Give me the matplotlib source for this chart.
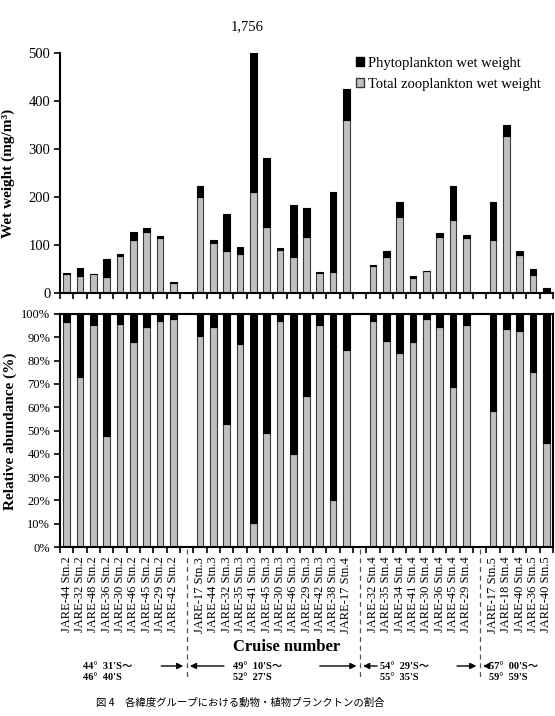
import numpy as np
import matplotlib
matplotlib.use('Agg')
import matplotlib.pyplot as plt
from matplotlib.patches import Patch
from matplotlib.transforms import blended_transform_factory

plt.rcParams['font.family'] = ['Liberation Serif', 'Noto Sans CJK JP']

# Stations, in four latitude groups ('' = blank slot between groups)
stations = ['JARE-44 Stn.2', 'JARE-32 Stn.2', 'JARE-48 Stn.2', 'JARE-36 Stn.2', 'JARE-30 Stn.2',
            'JARE-46 Stn.2', 'JARE-45 Stn.2', 'JARE-29 Stn.2', 'JARE-42 Stn.2', '',
            'JARE-17 Stn.3', 'JARE-44 Stn.3', 'JARE-32 Stn.3', 'JARE-35 Stn.3', 'JARE-41 Stn.3',
            'JARE-45 Stn.3', 'JARE-30 Stn.3', 'JARE-46 Stn.3', 'JARE-29 Stn.3', 'JARE-42 Stn.3',
            'JARE-38 Stn.3', 'JARE-17 Stn.4', '',
            'JARE-32 Stn.4', 'JARE-35 Stn.4', 'JARE-34 Stn.4', 'JARE-41 Stn.4', 'JARE-30 Stn.4',
            'JARE-36 Stn.4', 'JARE-45 Stn.4', 'JARE-29 Stn.4', '',
            'JARE-17 Stn.5', 'JARE-18 Stn.4', 'JARE-40 Stn.4', 'JARE-36 Stn.5', 'JARE-40 Stn.5']

# wet weight (mg/m3)
zoo_ww = [40, 36, 39, 33, 78, 111, 127, 114, 21, 0,
          201, 104, 88, 82, 210, 138, 90, 74, 116, 41, 44, 360, 0,
          57, 76, 158, 31, 45, 116, 152, 114, 0,
          111, 327, 80, 38, 3]
phyto_ww = [2, 16, 1, 38, 4, 16, 9, 5, 1, 0,
            21, 7, 77, 13, 1546, 144, 3, 109, 62, 2, 166, 64, 0,
            2, 11, 32, 5, 1, 8, 71, 6, 0,
            78, 23, 7, 13, 8]

# relative abundance of zooplankton (%)
zoo_pct = [96.6, 72.9, 95.1, 47.7, 95.7, 88.1, 94.3, 96.9, 97.7, 0,
           90.7, 94.6, 52.6, 87.1, 10.3, 49.1, 96.9, 39.7, 64.6, 95.4, 20.3, 84.7, 0,
           96.9, 88.6, 83.3, 88.0, 97.9, 94.3, 68.6, 95.4, 0,
           58.3, 93.7, 92.6, 75.3, 44.6]

group_breaks = [9, 22, 31]
lat_labels = ["44°  31'S～\n46°  40'S", "49°  10'S～\n52°  27'S",
              "54°  29'S～\n55°  35'S", "57°  00'S～\n59°  59'S"]

W, H = 555, 716
fig = plt.figure(figsize=(W / 100, H / 100), dpi=100)

def fx(px):
    return px / W

def fy(py):
    return 1 - py / H

x = np.arange(len(stations))
blank = np.array([s == '' for s in stations])
zoo_ww = np.array(zoo_ww, float)
phyto_ww = np.array(phyto_ww, float)
zoo_pct = np.array(zoo_pct, float)

gray = '#c0c0c0'
edge = '#3a3a3a'
bw = 0.5

# ---- top panel: wet weight
ax1 = fig.add_axes([fx(60), fy(293), fx(553) - fx(60), fy(53) - fy(293)])
xs = x[~blank]
ax1.bar(xs, zoo_ww[~blank], width=bw, color=gray, edgecolor=edge, linewidth=0.8)
ax1.bar(xs, phyto_ww[~blank], bottom=zoo_ww[~blank], width=bw, color='black',
        edgecolor='black', linewidth=0.8)
ax1.set_ylim(0, 500)
ax1.set_xlim(-0.5, len(stations) - 0.5)
ax1.set_yticks([0, 100, 200, 300, 400, 500])
ax1.set_xticks(np.arange(-0.5, len(stations)))
ax1.set_xticklabels([])
ax1.tick_params(axis='both', direction='out', length=4, width=1.2, labelsize=10.5, pad=3)
for s in ['top', 'right']:
    ax1.spines[s].set_visible(False)
for s in ['left', 'bottom']:
    ax1.spines[s].set_linewidth(1.5)

i_big = stations.index('JARE-41 Stn.3')
ax1.annotate(f"{int(zoo_ww[i_big] + phyto_ww[i_big]):,}", xy=(i_big, 500),
             xytext=(-6, 20), textcoords='offset pixels', ha='center', va='bottom',
             fontsize=10.5, annotation_clip=False)

handles = [Patch(facecolor='black', edgecolor='black'),
           Patch(facecolor=gray, edgecolor=edge)]
fig.legend(handles, ['Phytoplankton wet weight', 'Total zooplankton wet weight'],
           loc='upper left', bbox_to_anchor=(fx(356), fy(57)), frameon=False,
           fontsize=10.5, handlelength=0.55, handleheight=0.55, handletextpad=0.25,
           labelspacing=0.55, borderpad=0, borderaxespad=0)

fig.text(fx(8), fy(173), 'Wet weight (mg/m³)', rotation=90, ha='center', va='center',
         fontsize=11, fontweight='bold')

# ---- bottom panel: relative abundance
ax2 = fig.add_axes([fx(60), fy(547), fx(553) - fx(60), fy(314) - fy(547)])
ax2.bar(xs, zoo_pct[~blank], width=bw, color=gray, edgecolor=edge, linewidth=0.8)
ax2.bar(xs, 100 - zoo_pct[~blank], bottom=zoo_pct[~blank], width=bw, color='black',
        edgecolor='black', linewidth=0.8)
ax2.set_ylim(0, 100)
ax2.set_xlim(-0.5, len(stations) - 0.5)
ax2.set_yticks(np.arange(0, 101, 10))
ax2.set_yticklabels([f'{v}%' for v in range(0, 101, 10)])
ax2.set_xticks(np.arange(-0.5, len(stations)), minor=True)
ax2.set_xticks(x)
ax2.set_xticklabels(stations, rotation=90, fontsize=9)
ax2.tick_params(axis='x', which='major', length=0, pad=7)
ax2.tick_params(axis='x', which='minor', direction='out', length=4, width=1.2)
ax2.tick_params(axis='y', direction='out', length=4, width=1.2, labelsize=9, pad=3)
for s in ax2.spines.values():
    s.set_linewidth(1.5)

fig.text(fx(10), fy(431), 'Relative abundance (%)', rotation=90, ha='center', va='center',
         fontsize=11, fontweight='bold')
fig.text(fx(287), fy(647), 'Cruise number', ha='center', va='center',
         fontsize=12, fontweight='bold')

# group separators, arrows, latitude ranges
tr = blended_transform_factory(ax2.transData, fig.transFigure)
for b in group_breaks:
    ax2.plot([b, b], [fy(549), fy(678)], transform=tr, ls=(0, (4, 3)), color='#555555',
             lw=0.9, clip_on=False)

arrows = [(7.1, 8.75), (11.8, 9.25), (19.0, 21.75), (23.3, 22.25), (29.3, 30.75), (31.65, 31.25)]
for x0, x1 in arrows:
    ax2.annotate('', xy=(x1, fy(666)), xytext=(x0, fy(666)), xycoords=tr, textcoords=tr,
                 arrowprops=dict(arrowstyle='-|>', color='black', lw=1.0,
                                 mutation_scale=9, shrinkA=0, shrinkB=0),
                 annotation_clip=False)

lat_x = [1.2, 12.5, 23.5, 31.7]
for lx, txt in zip(lat_x, lat_labels):
    fig.text(lx, fy(672), txt, transform=tr, ha='left', va='center', fontsize=7.5,
             fontweight='bold', linespacing=1.25)

fig.text(fx(240), fy(703), '図 4　各緯度グループにおける動物・植物プランクトンの割合',
         ha='center', va='center', fontsize=7.5, family=['Noto Sans CJK JP'])

fig.savefig('out.png', dpi=100)
